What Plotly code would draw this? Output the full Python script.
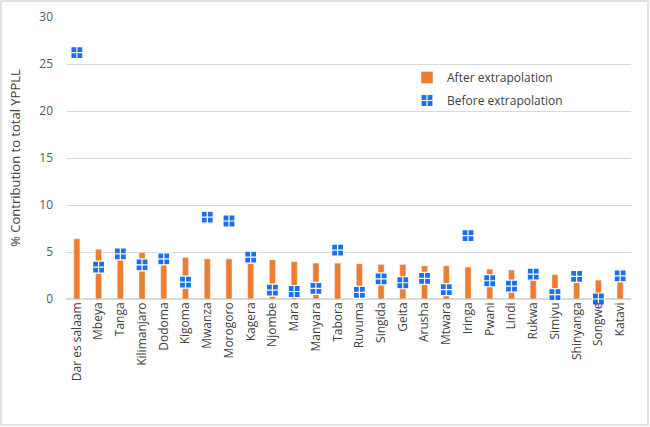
import plotly.graph_objects as go

# Regions and % contribution to total YPPLL
regions = ["Dar es salaam", "Mbeya", "Tanga", "Kilimanjaro", "Dodoma", "Kigoma",
           "Mwanza", "Morogoro", "Kagera", "Njombe", "Mara", "Manyara", "Tabora",
           "Ruvuma", "Singida", "Geita", "Arusha", "Mtwara", "Iringa", "Pwani",
           "Lindi", "Rukwa", "Simiyu", "Shinyanga", "Songwe", "Katavi"]
after = [6.4, 5.3, 4.9, 4.95, 4.5, 4.4, 4.27, 4.27, 4.2, 4.17, 3.96, 3.82, 3.82,
         3.74, 3.67, 3.67, 3.53, 3.53, 3.39, 3.18, 3.08, 2.9, 2.58, 2.4, 2.01, 2.0]
before = [26.2, 3.4, 4.8, 3.64, 4.27, 1.8, 8.7, 8.3, 4.45, 0.95, 0.8, 1.12, 5.2,
          0.7, 2.15, 1.73, 2.19, 0.99, 6.75, 1.94, 1.38, 2.65, 0.46, 2.4, 0.0, 2.47]

ORANGE = "#ED7D31"
BLUE = "#1A6FEA"
GREY = "#595959"

fig = go.Figure()
fig.add_trace(go.Bar(x=regions, y=after, name="After extrapolation",
                     legendgroup="a", marker=dict(color=ORANGE), width=0.28))
fig.add_trace(go.Scatter(x=regions, y=before, name="Before extrapolation",
                         legendgroup="b", mode="markers", cliponaxis=False,
                         marker=dict(symbol="square-cross", size=12, color=BLUE,
                                     line=dict(color="white", width=1.2))))

W, H = 650, 427
ml, mr, mt, mb = 66, 19, 17, 128
pw, ph = W - ml - mr, H - mt - mb

fig.update_layout(
    width=W, height=H,
    margin=dict(l=ml, r=mr, t=mt, b=mb),
    paper_bgcolor="white", plot_bgcolor="white",
    font=dict(family="Open Sans", size=12, color=GREY),
    showlegend=True,
    legend=dict(x=(407 - ml) / pw, y=(H - mb - 63) / ph, xanchor="left", yanchor="top",
                bgcolor="rgba(0,0,0,0)", font=dict(size=12, color="#404040"),
                itemwidth=30, tracegroupgap=4),
    xaxis=dict(tickangle=-90, showgrid=False, showline=False, ticks="",
               automargin=False, range=[-0.5, len(regions) - 0.5],
               tickfont=dict(size=12, color="#404040")),
    yaxis=dict(range=[0, 30], dtick=5, showgrid=True, gridcolor="#D9D9D9",
               gridwidth=1, zeroline=True, zerolinecolor="#D9D9D9",
               showline=False, ticks="", ticklen=0, automargin=False,
               ticklabelstandoff=12,
               tickfont=dict(size=12, color=GREY),
               title=dict(text="% Contribution to total YPPLL",
                          font=dict(size=13, color="#404040"))),
    shapes=[dict(type="rect", xref="paper", yref="paper",
                 x0=-(ml - 1) / pw, x1=1 + (mr - 2) / pw,
                 y0=-(mb - 2) / ph, y1=1 + (mt - 1) / ph,
                 line=dict(color="#D9D9D9", width=1.5), layer="below")],
)

# drop the default page margin so the figure sits at the window's corner
fig.write_html("out.html", config={"displayModeBar": False},
               post_script="document.body.style.margin='0';"
                           "document.body.style.overflow='hidden';")
